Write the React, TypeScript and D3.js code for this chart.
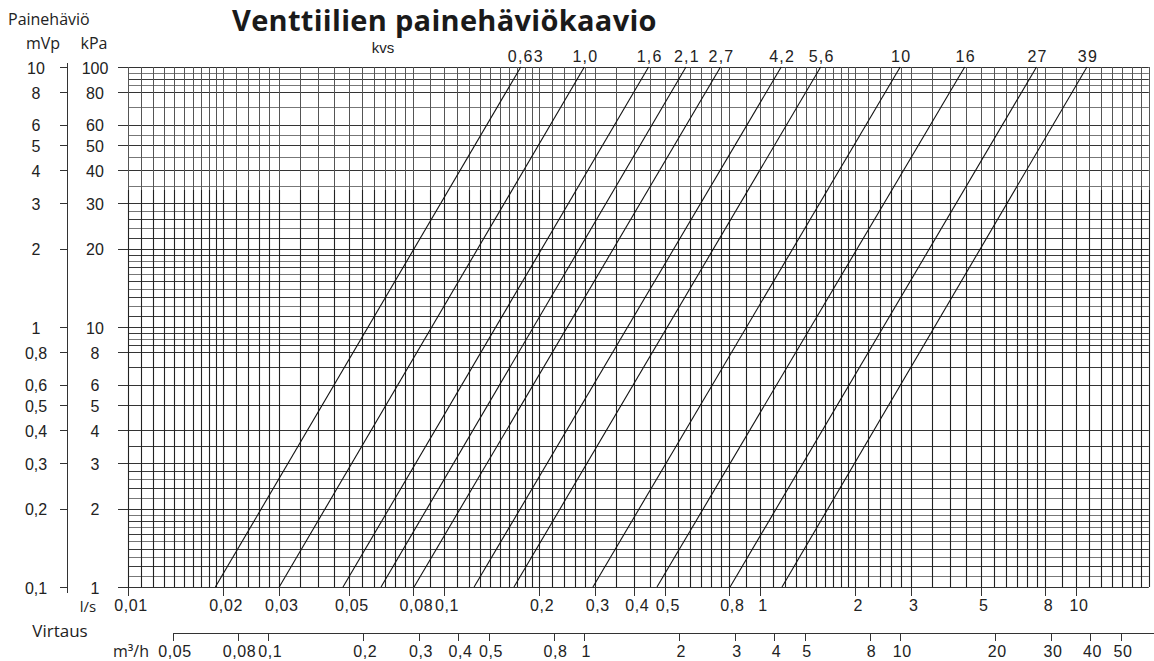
import React from "react";
import * as d3 from "d3";

// ---- data ----
const kvsLabels = ["0,63", "1,0", "1,6", "2,1", "2,7", "4,2", "5,6", "10", "16", "27", "39"];
// flow (l/s) where each kvs line meets 100 kPa (top) and 1 kPa (bottom)
const flowAt100kPa = [0.175, 0.278, 0.444, 0.583, 0.75, 1.167, 1.556, 2.778, 4.444, 7.5, 10.83];
const flowAt1kPa = [0.0189, 0.0301, 0.0479, 0.0632, 0.0804, 0.1245, 0.1665, 0.296, 0.472, 0.804, 1.174];

const kPaTicks = [100, 80, 60, 50, 40, 30, 20, 10, 8, 6, 5, 4, 3, 2, 1];
const kPaLabels = ["100", "80", "60", "50", "40", "30", "20", "10", "8", "6", "5", "4", "3", "2", "1"];
const mVpLabels = ["10", "8", "6", "5", "4", "3", "2", "1", "0,8", "0,6", "0,5", "0,4", "0,3", "0,2", "0,1"];

const lsTicks = [0.01, 0.02, 0.03, 0.05, 0.08, 0.1, 0.2, 0.3, 0.4, 0.5, 0.8, 1, 2, 3, 5, 8, 10];
const m3hTicks = [0.05, 0.08, 0.1, 0.2, 0.3, 0.4, 0.5, 0.8, 1, 2, 3, 4, 5, 8, 10, 20, 30, 40, 50];

// grid lines
const hGridLower = [1, 1.1, 1.2, 1.3, 1.4, 1.5, 1.6, 1.7, 1.8, 1.9, 2, 2.2, 2.4, 2.6, 2.8, 3, 3.5, 4, 5, 6, 7, 8, 8.5, 9, 9.5];
const hGridUpper = [10, 11, 12, 13, 14, 15, 16, 17, 18, 19, 20, 22, 24, 26, 28, 30, 35, 40, 45, 50, 55, 60, 70, 80, 85, 90, 95, 100];
const vGridMantissas = [1, 1.1, 1.2, 1.3, 1.4, 1.5, 1.6, 1.7, 1.8, 1.9, 2, 2.2, 2.4, 2.6, 2.8, 3, 3.5, 4, 4.5, 5, 5.5, 6, 6.5, 7, 7.5, 8, 9];
const vGridDecades = [0.01, 0.1, 1, 10];

const X_MIN = 0.01;
const X_MAX = 17;

const fmt = (v: number) => String(v).replace(".", ",");

const NUM_FONT = "'Liberation Sans', Arial, sans-serif";
const TXT_FONT = "'Open Sans', 'Noto Sans', sans-serif";

export default function App() {
  const W = 1154;
  const H = 661;
  const x0 = 128;
  const decadePx = 316;
  const x = d3
    .scaleLog()
    .domain([X_MIN, X_MAX])
    .range([x0, x0 + decadePx * Math.log10(X_MAX / X_MIN)]);
  const y = d3.scaleLog().domain([1, 100]).range([587, 67]);

  const xr = x.range();
  const vGrid: number[] = [];
  vGridDecades.forEach((d) =>
    vGridMantissas.forEach((m) => {
      const v = +(d * m).toPrecision(4);
      if (v >= X_MIN && v <= X_MAX) vGrid.push(v);
    })
  );
  const hGrid = [...hGridLower, ...hGridUpper];
  const labeledK = new Set(kPaTicks);

  const px = (v: number) => Math.round(v) + 0.5;
  const yTop = y(100);
  const yBot = y(1);
  const ySplit = 190;

  const line = d3
    .line<[number, number]>()
    .x((d) => x(d[0]))
    .y((d) => y(d[1]));

  const yAxisX = 67.5;
  const m3hY = 633.5;

  return (
    <svg width={W} height={H} style={{ display: "block", position: "absolute", left: 0, top: 0, background: "#fff" }}>
      <rect width={W} height={H} fill="#fff" />
      {/* titles */}
      <text x={232} y={31} fontFamily={TXT_FONT} fontWeight={700} fontSize={29} letterSpacing={0.3} fill="#1a1a1a">
        Venttiilien painehäviökaavio
      </text>
      <text x={8} y={25} fontFamily={TXT_FONT} fontSize={16} fill="#222">
        Painehäviö
      </text>
      <text x={43} y={49} fontFamily={TXT_FONT} fontSize={16} fill="#222" textAnchor="middle">
        mVp
      </text>
      <text x={94} y={49} fontFamily={TXT_FONT} fontSize={16} fill="#222" textAnchor="middle">
        kPa
      </text>
      <text x={383} y={53} fontFamily={NUM_FONT} fontSize={15} fill="#222" textAnchor="middle">
        kvs
      </text>

      {/* horizontal grid */}
      {hGrid.map((v, i) => (
        <line
          key={"h" + i}
          x1={labeledK.has(v) ? 118 : x0}
          x2={xr[1]}
          y1={px(y(v))}
          y2={px(y(v))}
          stroke={labeledK.has(v) ? "#333" : i % 2 ? "#777" : "#3a3a3a"}
          strokeWidth={1}
        />
      ))}
      {/* vertical grid */}
      {vGrid.map((v, i) => (
        <g key={"v" + i}>
          <line x1={px(x(v))} x2={px(x(v))} y1={yTop} y2={ySplit} stroke="#555" strokeWidth={1} />
          <line x1={px(x(v))} x2={px(x(v))} y1={ySplit} y2={yBot} stroke="#222" strokeWidth={1.1} />
        </g>
      ))}

      {/* kvs lines */}
      {kvsLabels.map((lab, i) => (
        <g key={"k" + i}>
          <path
            d={line([
              [flowAt1kPa[i], 1],
              [flowAt100kPa[i], 100],
            ]) || ""}
            stroke="#111"
            strokeWidth={1.1}
            fill="none"
          />
          <text
            x={x(flowAt100kPa[i]) + (i === 0 ? 5 : 1)}
            y={62}
            fontFamily={NUM_FONT}
            fontSize={16}
            letterSpacing={1.2}
            fill="#222"
            textAnchor="middle"
          >
            {lab}
          </text>
        </g>
      ))}

      {/* left mVp axis */}
      <line x1={yAxisX} x2={yAxisX} y1={63} y2={593} stroke="#333" strokeWidth={1} />
      {kPaTicks.map((v, i) => (
        <g key={"yt" + i}>
          <line x1={60} x2={yAxisX} y1={px(y(v))} y2={px(y(v))} stroke="#333" strokeWidth={1} />
          <text x={36} y={y(v) + 1} dy="0.35em" fontFamily={NUM_FONT} fontSize={16} fill="#222" textAnchor="middle">
            {mVpLabels[i]}
          </text>
          <text x={95} y={y(v) + 1} dy="0.35em" fontFamily={NUM_FONT} fontSize={16} fill="#222" textAnchor="middle">
            {kPaLabels[i]}
          </text>
        </g>
      ))}

      {/* l/s axis */}
      {lsTicks.map((v, i) => (
        <g key={"xt" + i}>
          <line x1={px(x(v))} x2={px(x(v))} y1={yBot} y2={596} stroke="#333" strokeWidth={1} />
          <text x={x(v) + 3} y={611} fontFamily={NUM_FONT} fontSize={16} letterSpacing={0.6} fill="#222" textAnchor="middle">
            {fmt(v)}
          </text>
        </g>
      ))}
      <text x={88} y={612} fontFamily={TXT_FONT} fontSize={15} fill="#222" textAnchor="middle">
        l/s
      </text>
      <text x={60} y={637} fontFamily={TXT_FONT} fontSize={17} fill="#222" textAnchor="middle">
        Virtaus
      </text>

      {/* m3/h axis */}
      <line x1={x(m3hTicks[0] / 3.6)} x2={W} y1={m3hY} y2={m3hY} stroke="#333" strokeWidth={1} />
      {m3hTicks.map((v, i) => (
        <g key={"mt" + i}>
          <line x1={px(x(v / 3.6))} x2={px(x(v / 3.6))} y1={m3hY} y2={641} stroke="#333" strokeWidth={1} />
          <text x={x(v / 3.6) + 2} y={657} fontFamily={NUM_FONT} fontSize={16} letterSpacing={0.6} fill="#222" textAnchor="middle">
            {fmt(v)}
          </text>
        </g>
      ))}
      <text x={131} y={657} fontFamily={TXT_FONT} fontSize={16} fill="#222" textAnchor="middle">
        m³/h
      </text>
    </svg>
  );
}
